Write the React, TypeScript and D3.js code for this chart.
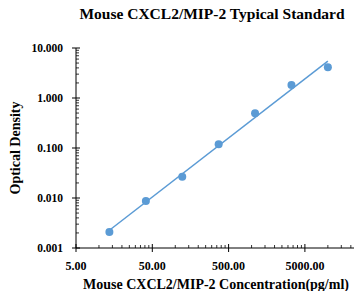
import React, { useEffect, useRef } from 'react';
import * as d3 from 'd3';

// standard curve
const concentration = [13.7, 41.2, 123.5, 370.4, 1111, 3333, 10000];
const opticalDensity = [0.0021, 0.0087, 0.0267, 0.1186, 0.494, 1.82, 4.11];

const xMajorTicks = [5, 50, 500, 5000, 50000];
const xLabelTicks = [5, 50, 500, 5000];
const yMajorTicks = [0.001, 0.01, 0.1, 1, 10];

const chartTitle = 'Mouse CXCL2/MIP-2 Typical Standard';
const xTitle = 'Mouse CXCL2/MIP-2 Concentration(pg/ml)';
const yTitle = 'Optical Density';

const App = () => {
  const svgRef = useRef<SVGSVGElement>(null);

  useEffect(() => {
    const width = 354;
    const height = 291;
    const left = 76;
    const top = 48;
    const bottom = 248;
    const xDecade = 76.3;
    const blue = '#5B9BD5';
    const font = '"Liberation Serif", "Times New Roman", serif';

    const svg = d3.select(svgRef.current);
    svg.selectAll('*').remove();

    const x = d3.scaleLog()
      .domain([5, 50000])
      .range([left, left + 4 * xDecade]);
    const y = d3.scaleLog()
      .domain([0.001, 10])
      .range([bottom, top]);

    // title
    svg.append('text')
      .attr('x', 212)
      .attr('y', 19)
      .attr('text-anchor', 'middle')
      .attr('font-family', font)
      .attr('font-weight', 'bold')
      .attr('font-size', 15.5)
      .text(chartTitle);

    // axes lines
    svg.append('line')
      .attr('x1', left).attr('x2', left)
      .attr('y1', top).attr('y2', bottom)
      .attr('stroke', '#000').attr('stroke-width', 1);
    svg.append('line')
      .attr('x1', left).attr('x2', width)
      .attr('y1', bottom).attr('y2', bottom)
      .attr('stroke', '#000').attr('stroke-width', 1);

    // y ticks
    const yMinor = yMajorTicks.slice(0, -1).flatMap(m => d3.range(2, 10).map(k => m * k));
    svg.selectAll('.yminor')
      .data(yMinor)
      .join('line')
      .attr('class', 'yminor')
      .attr('x1', left).attr('x2', left + 3)
      .attr('y1', d => y(d)).attr('y2', d => y(d))
      .attr('stroke', '#000').attr('stroke-width', 0.8);
    svg.selectAll('.ymajor')
      .data(yMajorTicks)
      .join('line')
      .attr('class', 'ymajor')
      .attr('x1', left - 4).attr('x2', left + 4)
      .attr('y1', d => y(d)).attr('y2', d => y(d))
      .attr('stroke', '#000').attr('stroke-width', 1);
    svg.selectAll('.ylabel')
      .data(yMajorTicks)
      .join('text')
      .attr('class', 'ylabel')
      .attr('x', 63)
      .attr('y', d => y(d))
      .attr('dy', '0.35em')
      .attr('text-anchor', 'end')
      .attr('font-family', font)
      .attr('font-weight', 'bold')
      .attr('font-size', 11.5)
      .text(d => d3.format('.3f')(d));

    // x ticks
    const xMinor = xMajorTicks.slice(0, -1).flatMap(m => d3.range(2, 10).map(k => m * k));
    svg.selectAll('.xminor')
      .data(xMinor)
      .join('line')
      .attr('class', 'xminor')
      .attr('x1', d => x(d)).attr('x2', d => x(d))
      .attr('y1', bottom).attr('y2', bottom - 3)
      .attr('stroke', '#000').attr('stroke-width', 0.8);
    svg.selectAll('.xmajor')
      .data(xMajorTicks)
      .join('line')
      .attr('class', 'xmajor')
      .attr('x1', d => x(d)).attr('x2', d => x(d))
      .attr('y1', bottom - 4).attr('y2', bottom + 4)
      .attr('stroke', '#000').attr('stroke-width', 1);
    svg.selectAll('.xlabel')
      .data(xLabelTicks)
      .join('text')
      .attr('class', 'xlabel')
      .attr('x', d => x(d))
      .attr('y', 270)
      .attr('text-anchor', 'middle')
      .attr('font-family', font)
      .attr('font-weight', 'bold')
      .attr('font-size', 12)
      .text(d => d3.format('.2f')(d));

    // axis titles
    svg.append('text')
      .attr('x', 216)
      .attr('y', 289)
      .attr('text-anchor', 'middle')
      .attr('font-family', font)
      .attr('font-weight', 'bold')
      .attr('font-size', 14)
      .text(xTitle);
    svg.append('text')
      .attr('transform', 'translate(20,148) rotate(-90)')
      .attr('text-anchor', 'middle')
      .attr('font-family', font)
      .attr('font-weight', 'bold')
      .attr('font-size', 14)
      .text(yTitle);

    // power trendline: least squares in log-log space
    const lx = concentration.map(Math.log10);
    const ly = opticalDensity.map(Math.log10);
    const mx = d3.mean(lx) as number;
    const my = d3.mean(ly) as number;
    const slope = d3.sum(lx, (v, i) => (v - mx) * (ly[i] - my)) / d3.sum(lx, v => (v - mx) ** 2);
    const icpt = my - slope * mx;
    const ends = d3.extent(concentration) as [number, number];
    const fit = (c: number) => Math.pow(10, icpt + slope * Math.log10(c));

    svg.append('line')
      .attr('x1', x(ends[0])).attr('y1', y(fit(ends[0])))
      .attr('x2', x(ends[1])).attr('y2', y(fit(ends[1])))
      .attr('stroke', blue)
      .attr('stroke-width', 1.5);

    svg.selectAll('.dot')
      .data(concentration)
      .join('circle')
      .attr('class', 'dot')
      .attr('cx', d => x(d))
      .attr('cy', (d, i) => y(opticalDensity[i]))
      .attr('r', 4)
      .attr('fill', blue);
  }, []);

  return (
    <svg
      ref={svgRef}
      width={354}
      height={291}
      style={{ position: 'absolute', left: 0, top: 0, background: '#fff' }}
    />
  );
};

export default App;
